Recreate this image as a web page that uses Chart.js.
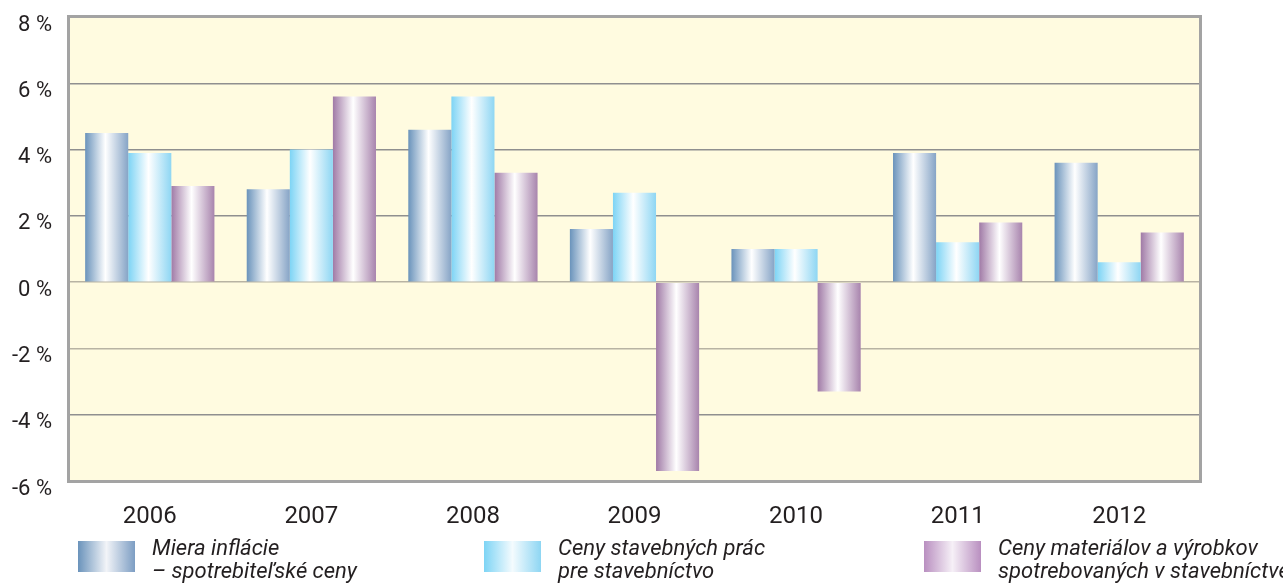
<!DOCTYPE html>
<html><head><meta charset="utf-8">
<script src="https://cdn.jsdelivr.net/npm/chart.js@4/dist/chart.umd.min.js"></script>
<style>
html,body{margin:0;padding:0;background:#fff;width:1283px;height:587px;overflow:hidden;}
#wrap{position:relative;width:1283px;height:587px;}
canvas{position:absolute;left:0;top:0;}
.sw{position:absolute;top:541px;width:57px;height:31px;}
.lt{position:absolute;top:536px;font:italic 22px 'Liberation Sans Narrow','Roboto',sans-serif;color:#231f20;line-height:23px;white-space:nowrap;}
</style></head>
<body><div id="wrap"><canvas id="c" width="1283" height="587"></canvas>
<div class="sw" style="left:78px;background:linear-gradient(to right,#6a93bb 0%,#f2f4f8 50%,#7c9dc3 100%)"></div>
<div class="lt" style="left:152px" id="l0"></div>
<div class="sw" style="left:484px;background:linear-gradient(to right,#7dd4f5 0%,#f4fbfe 50%,#8ed6f3 100%)"></div>
<div class="lt" style="left:558px" id="l1"></div>
<div class="sw" style="left:924px;background:linear-gradient(to right,#b98fc0 0%,#f6f0f7 50%,#b98fc0 100%)"></div>
<div class="lt" style="left:998px" id="l2"></div>
</div>
<script>
const years = ['2006','2007','2008','2009','2010','2011','2012'];
const inflation = [4.5, 2.8, 4.6, 1.6, 1.0, 3.9, 3.6];
const workPrices = [3.9, 4.0, 5.6, 2.7, 1.0, 1.2, 0.6];
const materialPrices = [2.9, 5.6, 3.3, -5.7, -3.3, 1.8, 1.5];
const seriesNames = [
  ['Miera inflácie','– spotrebiteľské ceny'],
  ['Ceny stavebných prác','pre stavebníctvo'],
  ['Ceny materiálov a výrobkov','spotrebovaných v stavebníctve']
];
const yTicks = [8,6,4,2,0,-2,-4,-6];

seriesNames.forEach((n,i)=>{document.getElementById('l'+i).innerHTML=n[0]+'<br>'+n[1];});

const edges = [['#6a93bb','#86a4c6'],['#7dd4f5','#8ed6f3'],['#a07aa6','#a884ad']];
function grad(ctx){
  const d = ctx.datasetIndex;
  if (ctx.type !== 'data') return edges[d][0];
  const chart = ctx.chart, ca = chart.chartArea, xs = chart.scales.x;
  if (!ca || !xs) return edges[d][0];
  const catW = (ca.right - ca.left) / years.length;
  const bw = catW * 0.8 / 3;
  const left = xs.getPixelForValue(ctx.dataIndex) - 1.5*bw + d*bw;
  const g = chart.ctx.createLinearGradient(left,0,left+bw,0);
  g.addColorStop(0, edges[d][0]);
  g.addColorStop(0.47, '#ffffff');
  g.addColorStop(1, edges[d][1]);
  return g;
}

const frame = {
  id:'frame',
  beforeDraw(chart){
    const {ctx, chartArea:a} = chart;
    ctx.save(); ctx.fillStyle='#fffbe0';
    ctx.fillRect(a.left,a.top,a.right-a.left,a.bottom-a.top); ctx.restore();
  },
  afterDraw(chart){
    const {ctx, chartArea:a} = chart;
    ctx.save(); ctx.strokeStyle='#a3a3a3'; ctx.lineWidth=3;
    ctx.strokeRect(a.left-0.5,a.top-0.5,a.right-a.left+1,a.bottom-a.top+1);
    ctx.restore();
  }
};

new Chart(document.getElementById('c'),{
  type:'bar',
  data:{labels:years,datasets:[
    {label:seriesNames[0].join(' '),data:inflation,backgroundColor:grad},
    {label:seriesNames[1].join(' '),data:workPrices,backgroundColor:grad},
    {label:seriesNames[2].join(' '),data:materialPrices,backgroundColor:grad}
  ]},
  options:{
    responsive:false, animation:false, devicePixelRatio:1,
    categoryPercentage:0.8, barPercentage:1.0,
    layout:{padding:{top:17,right:83,left:0,bottom:0}},
    plugins:{legend:{display:false},tooltip:{enabled:false}},
    scales:{
      x:{
        grid:{display:false,drawTicks:false}, border:{display:false},
        ticks:{padding:22,color:'#231f20',font:{family:"'Liberation Sans Narrow','Roboto',sans-serif",size:24}},
        afterFit(s){s.height=106;s.paddingLeft=0;s.paddingRight=0;}
      },
      y:{
        min:-6,max:8,
        afterBuildTicks(s){s.ticks=yTicks.map(v=>({value:v}));},
        grid:{drawTicks:false,color:(c)=>c.tick && (c.tick.value===0||c.tick.value===-2)?'#b8b3a3':'#8f8f8f',lineWidth:1.5},
        border:{display:false},
        ticks:{padding:17,labelOffset:8,color:'#231f20',font:{family:"'Liberation Sans Narrow','Roboto',sans-serif",size:22},
          callback:(v)=>v+' %'},
        afterFit(s){s.width=69;s.paddingTop=0;s.paddingBottom=0;}
      }
    }
  },
  plugins:[frame]
});
</script></body></html>
